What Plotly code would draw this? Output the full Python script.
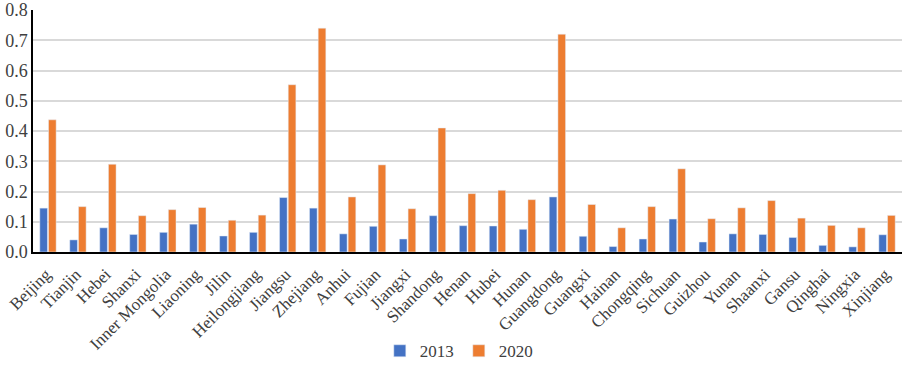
import plotly.graph_objects as go

provinces = ["Beijing", "Tianjin", "Hebei", "Shanxi", "Inner Mongolia", "Liaoning", "Jilin",
             "Heilongjiang", "Jiangsu", "Zhejiang", "Anhui", "Fujian", "Jiangxi", "Shandong",
             "Henan", "Hubei", "Hunan", "Guangdong", "Guangxi", "Hainan", "Chongqing", "Sichuan",
             "Guizhou", "Yunan", "Shaanxi", "Gansu", "Qinghai", "Ningxia", "Xinjiang"]
v2013 = [0.145, 0.040, 0.080, 0.058, 0.065, 0.092, 0.053, 0.065, 0.180, 0.145, 0.060, 0.085,
         0.043, 0.120, 0.087, 0.086, 0.075, 0.182, 0.052, 0.018, 0.043, 0.109, 0.033, 0.060,
         0.058, 0.048, 0.022, 0.017, 0.057]
v2020 = [0.437, 0.150, 0.290, 0.120, 0.140, 0.147, 0.105, 0.122, 0.553, 0.740, 0.182, 0.288,
         0.143, 0.410, 0.193, 0.204, 0.173, 0.720, 0.157, 0.080, 0.150, 0.275, 0.110, 0.146,
         0.170, 0.112, 0.088, 0.080, 0.121]
yticks = [0.0, 0.1, 0.2, 0.3, 0.4, 0.5, 0.6, 0.7, 0.8]

font = "Liberation Serif, Times New Roman, serif"

fig = go.Figure()
fig.add_trace(go.Bar(x=provinces, y=v2013, name="2013", marker_color="#4472C4"))
fig.add_trace(go.Bar(x=provinces, y=v2020, name="2020", marker_color="#ED7D31"))

fig.update_layout(
    width=906, height=374,
    margin=dict(l=33, r=4, t=10, b=122, autoexpand=False),
    paper_bgcolor="white", plot_bgcolor="white",
    barmode="group", bargap=0.42, bargroupgap=0.12,
    font=dict(family=font, size=17, color="#404040"),
    showlegend=True,
    legend=dict(orientation="h", x=0.49, xanchor="center", y=-0.41, yanchor="middle",
                font=dict(size=17, color="#404040"), itemwidth=30,
                traceorder="normal"),
)
fig.update_xaxes(tickangle=-45, showline=True, linecolor="black", linewidth=1.5,
                 ticks="", tickfont=dict(size=17), showgrid=False, ticklabelshift=-2,
                 ticklabelstandoff=4, automargin=False)
fig.update_yaxes(range=[0, 0.8], tickvals=yticks, tickformat=".1f", showline=True,
                 linecolor="black", linewidth=1.5, showgrid=True, gridcolor="#D9D9D9",
                 gridwidth=1.5, zeroline=False, ticks="", tickfont=dict(size=18),
                 ticklabeloverflow="allow", automargin=False)

fig.write_html("out.html", config={"displayModeBar": False},
               post_script="document.body.style.margin='0';document.body.style.overflow='hidden';")
